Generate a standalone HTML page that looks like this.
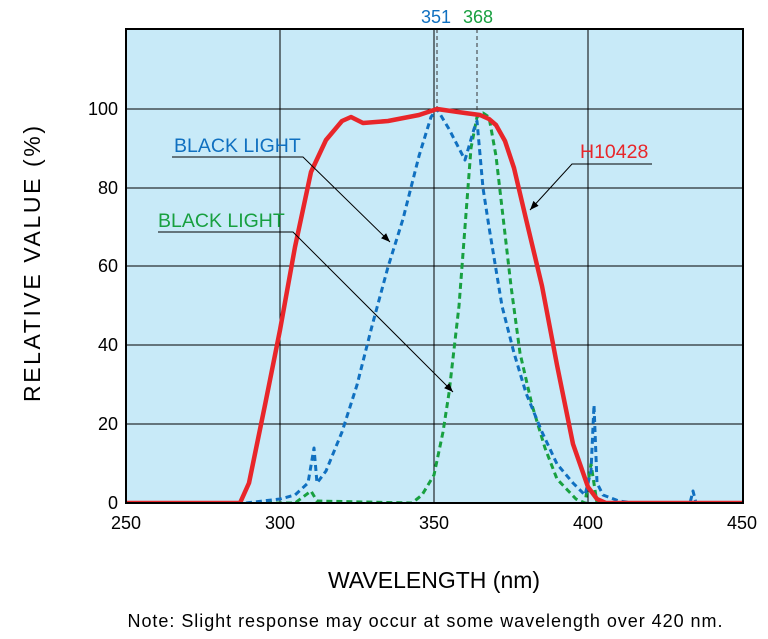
<!DOCTYPE html>
<html><head><style>body{margin:0;background:#fff}svg{display:block;font-family:"Liberation Sans",sans-serif}</style></head><body>
<svg width="768" height="639" viewBox="0 0 768 639">
<defs><clipPath id="c"><rect x="126" y="29" width="617" height="474"/></clipPath>
<marker id="a" viewBox="0 0 10 10" refX="10" refY="5" markerWidth="9" markerHeight="9" orient="auto"><path d="M0,1L10,5L0,9z" fill="#000"/></marker></defs>
<rect x="126" y="29" width="617" height="474" fill="#c8eaf8"/>
<g stroke="#000" stroke-width="1">
<line x1="280" y1="29" x2="280" y2="503"/><line x1="434" y1="29" x2="434" y2="503"/><line x1="588" y1="29" x2="588" y2="503"/>
<line x1="126" y1="109" x2="743" y2="109"/><line x1="126" y1="188" x2="743" y2="188"/><line x1="126" y1="266" x2="743" y2="266"/><line x1="126" y1="345" x2="743" y2="345"/><line x1="126" y1="424" x2="743" y2="424"/>
</g>
<g stroke="#333" stroke-width="1" stroke-dasharray="4,3"><line x1="437" y1="29" x2="437" y2="109"/><line x1="477" y1="29" x2="477" y2="115"/></g>
<g clip-path="url(#c)" fill="none" stroke-linejoin="round">
<polyline stroke="#18a040" stroke-width="3" stroke-dasharray="6,4" points="126,503 295,503 311,491 317,501 412,503 422,495 434,475 443,432 449,393 459,306 465,227 471,148 477,117 483,113 489,117 496,156 502,208 511,286 520,353 532,405 545,448 557,479 576,499 585,503 591,464 597,503 743,503"/>
<polyline stroke="#1070c0" stroke-width="3" stroke-dasharray="6,4" points="126,503 246,503 280,499 295,495 308,483 314,448 317,483 326,471 342,432 357,385 372,326 388,267 403,219 419,156 431,117 437,109 449,129 465,160 474,129 477,121 483,188 489,227 502,306 514,353 526,393 542,432 557,464 573,483 585,495 591,471 594,405 597,483 603,495 619,501 634,503 690,503 693,491 696,503 743,503"/>
<polyline stroke="#e8262a" stroke-width="4.5" points="126,503 240,503 249,483 265,405 280,330 295,247 311,172 326,140 342,121 351,117 363,123 388,121 419,115 437,109 465,113 480,115 489,119 496,125 505,141 514,168 526,219 542,286 557,365 573,444 588,487 597,499 606,503 743,503"/>
</g>
<rect x="126" y="29" width="617" height="474" fill="none" stroke="#000" stroke-width="2"/>
<g fill="none" stroke="#000" stroke-width="1">
<polyline points="172,157 303,157 390,242" marker-end="url(#a)"/>
<polyline points="158,232 293,232 453,392" marker-end="url(#a)"/>
<polyline points="652,164 572,164 530,210" marker-end="url(#a)"/>
</g>
<g font-size="19.5">
<text x="174" y="152" fill="#1070c0">BLACK LIGHT</text>
<text x="158" y="227" fill="#18a040">BLACK LIGHT</text>
<text x="580" y="158" fill="#e8262a">H10428</text>
</g>
<g font-size="18">
<text x="437" y="23" fill="#1070c0" text-anchor="end" dx="14">351</text>
<text x="478" y="23" fill="#18a040" text-anchor="middle">368</text>
</g>
<g font-size="18" text-anchor="end">
<text x="118" y="115">100</text><text x="118" y="194">80</text><text x="118" y="272">60</text><text x="118" y="351">40</text><text x="118" y="430">20</text><text x="118" y="509">0</text>
</g>
<g font-size="18" text-anchor="middle">
<text x="126" y="529">250</text><text x="280" y="529">300</text><text x="434" y="529">350</text><text x="588" y="529">400</text><text x="742" y="529">450</text>
</g>
<text x="434" y="588" font-size="23" text-anchor="middle">WAVELENGTH (nm)</text>
<text transform="translate(40,264) rotate(-90)" font-size="23" text-anchor="middle" textLength="276" lengthAdjust="spacing">RELATIVE VALUE  (%)</text>
<text x="425" y="627" font-size="18" text-anchor="middle" textLength="595">Note: Slight response may occur at some wavelength over 420 nm.</text>
</svg>
</body></html>
